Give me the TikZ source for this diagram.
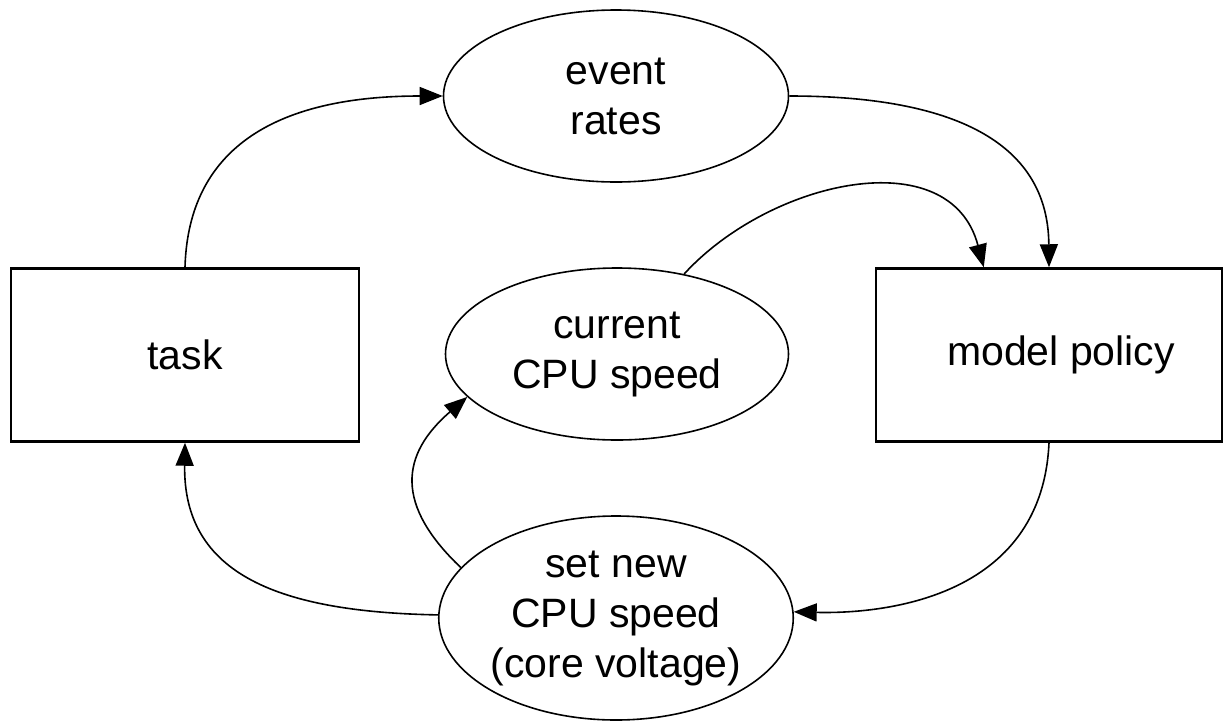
\documentclass[tikz,border=0pt]{standalone}
\usepackage{fontspec}
\setmainfont{Liberation Sans}
\usetikzlibrary{shapes.geometric,arrows.meta,calc}
\begin{document}
\begin{tikzpicture}[x=1pt,y=-1pt,
  every node/.style={font=\fontsize{41}{50}\selectfont, align=center},
  box/.style={draw, line width=2.5pt, rectangle, inner sep=0pt},
  oval/.style={draw, line width=1.6pt, ellipse, inner sep=0pt},
  conn/.style={line width=1.6pt, -{Triangle[length=23pt,width=18pt]}}]
\useasboundingbox (0,0) rectangle (1226,724);
\node[box, minimum width=348pt, minimum height=173pt] (task) at (185,355) {task};
\node[box, minimum width=346pt, minimum height=173pt] (model) at (1049,355) {\hspace*{24pt}model policy};
\node[oval, minimum width=345pt, minimum height=172pt] (rates) at (616,96) {event\\rates};
\node[oval, minimum width=343pt, minimum height=172pt] (cur) at (617,354) {current\\CPU speed};
\node[oval, minimum width=345pt, minimum height=204pt] (set) at (616,618) {set new\\CPU speed\\(core voltage)};
\coordinate (mtop) at ($(model.north west)+(109,0)$);
\draw[conn] (task.north) .. controls (188,160) and (260,96) .. (rates.west);
\draw[conn] (rates.east) .. controls (930,96) and (1048,130) .. (model.north);
\draw[conn] (cur.50) .. controls (770,180) and (950,140) .. (mtop);
\draw[conn] (model.south) .. controls (1042,600) and (880,614) .. (set.2);
\draw[conn] (set.179) .. controls (280,612) and (183,575) .. (task.south);
\draw[conn] (set.162) .. controls (395,505) and (400,455) .. (cur.196);
\end{tikzpicture}
\end{document}
